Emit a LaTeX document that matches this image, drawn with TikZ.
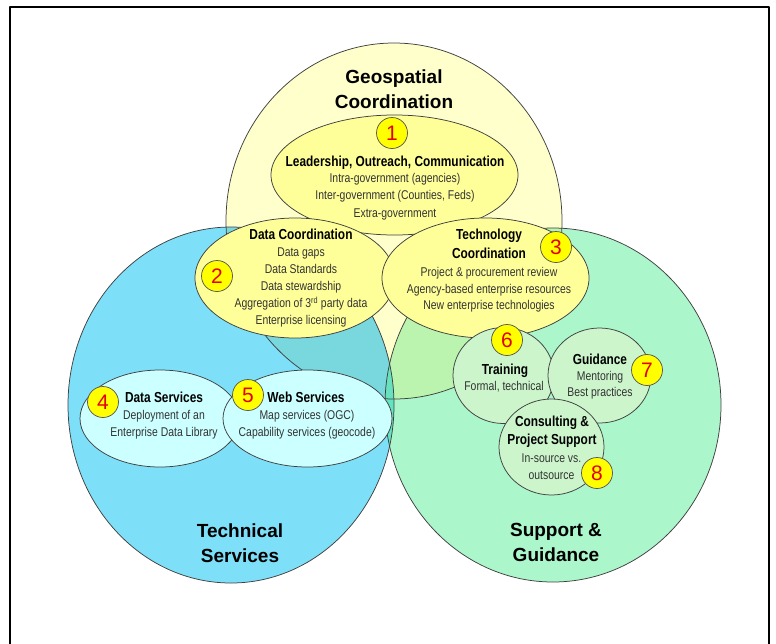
\documentclass[tikz,border=0pt]{standalone}
\usepackage{fontspec}
\setmainfont{Liberation Sans}
\newfontfamily\narrowfont[FakeStretch=0.82]{Liberation Sans}

\definecolor{geofill}{RGB}{255,255,204}
\definecolor{techfill}{RGB}{126,224,248}
\definecolor{suppfill}{RGB}{172,246,204}
\definecolor{geotech}{RGB}{120,216,222}
\definecolor{geosupp}{RGB}{186,244,174}
\definecolor{techsupp}{RGB}{98,228,192}
\definecolor{allthree}{RGB}{104,226,190}
\definecolor{coordfill}{RGB}{255,255,153}
\definecolor{servfill}{RGB}{204,255,255}
\definecolor{helpfill}{RGB}{204,245,204}
\definecolor{badgefill}{RGB}{255,255,0}
\definecolor{badgenum}{RGB}{228,0,0}

\tikzset{
  rim/.style={draw=black!75, line width=0.75pt},
  coordshape/.style={rim, fill=coordfill},
  servshape/.style={rim, fill=servfill},
  helpshape/.style={rim, fill=helpfill},
  badge/.style={circle, draw=black!65, line width=0.75pt, fill=badgefill,
    minimum size=31pt, inner sep=0pt, text=badgenum,
    font=\fontsize{21}{21}\selectfont},
  areatitle/.style={anchor=base, font=\bfseries\fontsize{19}{23}\selectfont},
  topic/.style={anchor=base, font=\narrowfont\bfseries\fontsize{14.5}{17}\selectfont},
  detail/.style={anchor=base, text=black!80, font=\narrowfont\fontsize{12.7}{15}\selectfont},
  geosize/.style={x radius=168, y radius=178},
  techsize/.style={x radius=163, y radius=178},
  suppsize/.style={x radius=168, y radius=177}
}

\begin{document}
\begin{tikzpicture}[x=1pt, y=-1pt, line join=round]
  \useasboundingbox (0,0) rectangle (776,643);

  % frame, open at the bottom
  \draw[line width=2.6pt] (10,648) -- (10,7) -- (769,7) -- (769,648);

  % the three large areas
  \coordinate (geo) at (394,221);
  \coordinate (tech) at (231,405);
  \coordinate (supp) at (553,405);

  \fill[geofill, geosize] (geo) ellipse;
  \fill[techfill, techsize] (tech) ellipse;
  \fill[suppfill, suppsize] (supp) ellipse;
  \begin{scope}
    \clip[techsize] (tech) ellipse;
    \fill[geotech, geosize] (geo) ellipse;
  \end{scope}
  \begin{scope}
    \clip[suppsize] (supp) ellipse;
    \fill[geosupp, geosize] (geo) ellipse;
  \end{scope}
  \begin{scope}
    \clip[techsize] (tech) ellipse;
    \fill[techsupp, suppsize] (supp) ellipse;
  \end{scope}
  \begin{scope}
    \clip[techsize] (tech) ellipse;
    \clip[suppsize] (supp) ellipse;
    \fill[allthree, geosize] (geo) ellipse;
  \end{scope}
  \draw[rim, geosize] (geo) ellipse;
  \draw[rim, techsize] (tech) ellipse;
  \draw[rim, suppsize] (supp) ellipse;

  % coordination ellipses
  \path[coordshape] (394.5,175) ellipse [x radius=123.5, y radius=60];
  \path[coordshape] (295,278) ellipse [x radius=100, y radius=60];
  \path[coordshape] (485.5,278) ellipse [x radius=103.5, y radius=60];

  % service ellipses
  \path[servshape] (160,418.5) ellipse [x radius=80, y radius=48.5];
  \path[servshape] (307.5,418.5) ellipse [x radius=84.5, y radius=48.5];

  % support circles
  \path[helpshape] (503.5,375.5) ellipse [x radius=50.5, y radius=48];
  \path[helpshape] (599.5,375.5) ellipse [x radius=51.5, y radius=47.5];
  \path[helpshape] (551.5,447) ellipse [x radius=52.5, y radius=48];

  % area titles
  \node[areatitle] (geo-title-1) at (394,83) {Geospatial};
  \node[areatitle] (geo-title-2) at (394,108) {Coordination};
  \node[areatitle] (tech-title-1) at (240,537) {Technical};
  \node[areatitle] (tech-title-2) at (240,562) {Services};
  \node[areatitle] (supp-title-1) at (556,536) {Support \&};
  \node[areatitle] (supp-title-2) at (556,561) {Guidance};

  % topics and their details
  \node[topic] (lead-head) at (395,166.5) {Leadership, Outreach, Communication};
  \foreach \txt [count=\i] in {Intra-government (agencies), {Inter-government (Counties, Feds)}, Extra-government}
    \node[detail] (lead-\i) at (395,165.5+17.2*\i) {\txt};

  \node[topic] (datacoord-head) at (301,239) {Data Coordination};
  \foreach \txt [count=\i] in {Data gaps, Data Standards, Data stewardship, {Aggregation of 3\textsuperscript{rd} party data}, Enterprise licensing}
    \node[detail] (datacoord-\i) at (301,239+17.1*\i) {\txt};

  \node[topic] (techcoord-head-1) at (489,239) {Technology};
  \node[topic] (techcoord-head-2) at (489,258) {Coordination};
  \foreach \txt [count=\i] in {Project \& procurement review, Agency-based enterprise resources, New enterprise technologies}
    \node[detail] (techcoord-\i) at (489,260+16.6*\i) {\txt};

  \node[topic] (dataserv-head) at (164,402) {Data Services};
  \foreach \txt [count=\i] in {Deployment of an, Enterprise Data Library}
    \node[detail] (dataserv-\i) at (164,402+17*\i) {\txt};

  \node[topic] (webserv-head) at (306,402) {Web Services};
  \foreach \txt [count=\i] in {Map services (OGC), Capability services (geocode)}
    \node[detail] (webserv-\i) at (307,402+17*\i) {\txt};

  \node[topic] (training-head) at (505,374) {Training};
  \node[detail] (training-1) at (504,390) {Formal, technical};

  \node[topic] (guidance-head) at (600,364) {Guidance};
  \foreach \txt [count=\i] in {Mentoring, Best practices}
    \node[detail] (guidance-\i) at (600,364+16*\i) {\txt};

  \node[topic] (consult-head-1) at (552,426) {Consulting \&};
  \node[topic] (consult-head-2) at (552,444) {Project Support};
  \foreach \txt [count=\i] in {In-source vs., outsource}
    \node[detail] (consult-\i) at (551.5,445+17*\i) {\txt};

  % numbered badges
  \foreach \n/\x/\y in {1/392/133, 2/217/276, 3/556/247, 4/103/402,
                        5/248/395, 6/507/340, 7/647/370, 8/597/473}
    \node[badge] (badge-\n) at (\x,\y) {\n};
\end{tikzpicture}
\end{document}
